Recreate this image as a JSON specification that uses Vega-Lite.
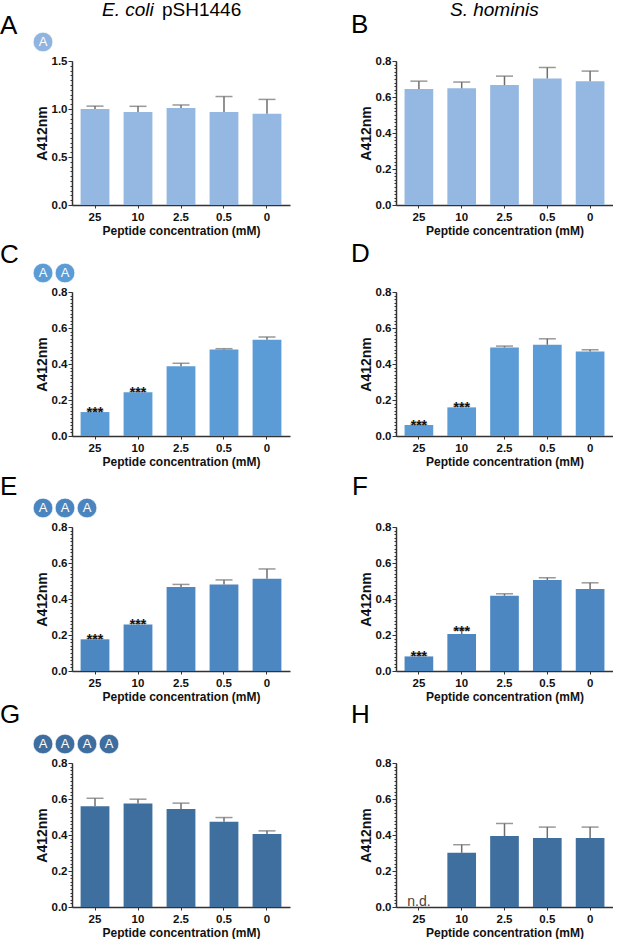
{
  "$schema": "https://vega.github.io/schema/vega-lite/v6.json",
  "background": "white",
  "padding": 0,
  "autosize": {"type": "pad"},
  "datasets": {
    "bars": [
      {"panel": "A", "conc": "25", "mean": 1.0, "hi": 1.03},
      {"panel": "A", "conc": "10", "mean": 0.97, "hi": 1.028},
      {"panel": "A", "conc": "2.5", "mean": 1.01, "hi": 1.042},
      {"panel": "A", "conc": "0.5", "mean": 0.97, "hi": 1.13},
      {"panel": "A", "conc": "0", "mean": 0.95, "hi": 1.1},
      {"panel": "B", "conc": "25", "mean": 0.644, "hi": 0.688},
      {"panel": "B", "conc": "10", "mean": 0.648, "hi": 0.683},
      {"panel": "B", "conc": "2.5", "mean": 0.666, "hi": 0.716},
      {"panel": "B", "conc": "0.5", "mean": 0.703, "hi": 0.764},
      {"panel": "B", "conc": "0", "mean": 0.688, "hi": 0.744},
      {"panel": "C", "conc": "25", "mean": 0.133, "hi": 0.141, "sig": "***"},
      {"panel": "C", "conc": "10", "mean": 0.243, "hi": 0.248, "sig": "***"},
      {"panel": "C", "conc": "2.5", "mean": 0.387, "hi": 0.404},
      {"panel": "C", "conc": "0.5", "mean": 0.48, "hi": 0.485},
      {"panel": "C", "conc": "0", "mean": 0.535, "hi": 0.55},
      {"panel": "D", "conc": "25", "mean": 0.061, "hi": 0.066, "sig": "***"},
      {"panel": "D", "conc": "10", "mean": 0.159, "hi": 0.166, "sig": "***"},
      {"panel": "D", "conc": "2.5", "mean": 0.492, "hi": 0.4995},
      {"panel": "D", "conc": "0.5", "mean": 0.507, "hi": 0.54},
      {"panel": "D", "conc": "0", "mean": 0.47, "hi": 0.479},
      {"panel": "E", "conc": "25", "mean": 0.176, "hi": 0.181, "sig": "***"},
      {"panel": "E", "conc": "10", "mean": 0.259, "hi": 0.265, "sig": "***"},
      {"panel": "E", "conc": "2.5", "mean": 0.467, "hi": 0.481},
      {"panel": "E", "conc": "0.5", "mean": 0.481, "hi": 0.506},
      {"panel": "E", "conc": "0", "mean": 0.513, "hi": 0.567},
      {"panel": "F", "conc": "25", "mean": 0.081, "hi": 0.087, "sig": "***"},
      {"panel": "F", "conc": "10", "mean": 0.205, "hi": 0.229, "sig": "***"},
      {"panel": "F", "conc": "2.5", "mean": 0.418, "hi": 0.429},
      {"panel": "F", "conc": "0.5", "mean": 0.506, "hi": 0.518},
      {"panel": "F", "conc": "0", "mean": 0.455, "hi": 0.49},
      {"panel": "G", "conc": "25", "mean": 0.56, "hi": 0.604},
      {"panel": "G", "conc": "10", "mean": 0.575, "hi": 0.599},
      {"panel": "G", "conc": "2.5", "mean": 0.545, "hi": 0.577},
      {"panel": "G", "conc": "0.5", "mean": 0.473, "hi": 0.497},
      {"panel": "G", "conc": "0", "mean": 0.405, "hi": 0.423},
      {"panel": "H", "conc": "25", "mean": null, "hi": null, "note": "n.d."},
      {"panel": "H", "conc": "10", "mean": 0.301, "hi": 0.346},
      {"panel": "H", "conc": "2.5", "mean": 0.394, "hi": 0.464},
      {"panel": "H", "conc": "0.5", "mean": 0.383, "hi": 0.444},
      {"panel": "H", "conc": "0", "mean": 0.383, "hi": 0.444}
    ],
    "badges": [
      {"panel": "A", "residue": 1, "aa": "A"},
      {"panel": "C", "residue": 1, "aa": "A"},
      {"panel": "C", "residue": 2, "aa": "A"},
      {"panel": "E", "residue": 1, "aa": "A"},
      {"panel": "E", "residue": 2, "aa": "A"},
      {"panel": "E", "residue": 3, "aa": "A"},
      {"panel": "G", "residue": 1, "aa": "A"},
      {"panel": "G", "residue": 2, "aa": "A"},
      {"panel": "G", "residue": 3, "aa": "A"},
      {"panel": "G", "residue": 4, "aa": "A"}
    ]
  },
  "columns": 2,
  "bounds": "flush",
  "spacing": {"row": 0, "column": 106},
  "concat": [
    {
      "width": 218, "height": 23,
      "data": {"values": []},
      "mark": "point",
      "title": {"text": "E. coli", "fontSize": 19, "fontStyle": "italic", "offset": -20, "dx": 30}
    },
    {
      "width": 217, "height": 23,
      "data": {"values": []},
      "mark": "point",
      "title": {"text": "S. hominis", "fontSize": 19, "fontStyle": "italic", "offset": -20, "dx": 54}
    },
    {
      "width": 218, "height": 38,
      "data": {"name": "badges"},
      "transform": [{"filter": "datum.panel === 'A'"}],
      "title": {"text": "pSH1446", "fontSize": 19, "offset": 3, "dx": 90},
      "encoding": {"x": {"field": "residue", "type": "quantitative", "scale": {"domain": [2.318, 12.227], "nice": false, "zero": false}, "axis": null}},
      "layer": [
        {"mark": {"type": "circle", "size": 385, "opacity": 1, "color": "#8fb4e0", "stroke": "white", "strokeWidth": 0.6}},
        {"mark": {"type": "text", "color": "white", "fontSize": 13}, "encoding": {"text": {"field": "aa"}}}
      ]
    },
    {"width": 217, "height": 38, "data": {"values": []}, "mark": "point"},
    {
      "width": 218, "height": 144,
      "data": {"name": "bars"},
      "transform": [{"filter": "datum.panel === 'A'"}],
      "title": {"text": "A", "dx": -72, "offset": 16},
      "encoding": {"x": {"field": "conc", "type": "nominal", "sort": null, "scale": {"domain": ["25", "10", "2.5", "0.5", "0"], "paddingInner": 0.33, "paddingOuter": 0.2}, "axis": {"title": "Peptide concentration (mM)"}}},
      "layer": [
        {"mark": {"type": "bar", "color": "#94b8e1"},
         "encoding": {"y": {"field": "mean", "type": "quantitative", "scale": {"domain": [0, 1.5], "nice": false},
           "axis": {"title": "A412nm", "orient": "left", "values": [0, 0.5, 1, 1.5], "format": ".1f", "tickSize": 4}}}},
        {"mark": {"type": "rule", "color": "#6e6e6e", "strokeWidth": 1.5},
         "encoding": {"y": {"field": "mean", "type": "quantitative",
           "axis": {"title": null, "orient": "left", "labels": false, "domain": false, "tickSize": 2,
             "values": [0, 0.05, 0.1, 0.15, 0.2, 0.25, 0.3, 0.35, 0.4, 0.45, 0.5, 0.55, 0.6, 0.65, 0.7, 0.75, 0.8, 0.85, 0.9, 0.95, 1, 1.05, 1.1, 1.15, 1.2, 1.25, 1.3, 1.35, 1.4, 1.45, 1.5]}},
           "y2": {"field": "hi"}}},
        {"mark": {"type": "tick", "color": "#6e6e6e", "thickness": 1.5, "size": 17},
         "encoding": {"y": {"field": "hi", "type": "quantitative", "axis": null}}}
      ],
      "resolve": {"axis": {"y": "independent"}}
    },
    {
      "width": 217, "height": 144,
      "data": {"name": "bars"},
      "transform": [{"filter": "datum.panel === 'B'"}],
      "title": {"text": "B", "dx": -45, "offset": 17},
      "encoding": {"x": {"field": "conc", "type": "nominal", "sort": null, "scale": {"domain": ["25", "10", "2.5", "0.5", "0"], "paddingInner": 0.33, "paddingOuter": 0.2}, "axis": {"title": "Peptide concentration (mM)"}}},
      "layer": [
        {"mark": {"type": "bar", "color": "#94b8e1"},
         "encoding": {"y": {"field": "mean", "type": "quantitative", "scale": {"domain": [0, 0.8], "nice": false},
           "axis": {"title": "A412nm", "orient": "left", "values": [0, 0.2, 0.4, 0.6, 0.8], "format": ".1f", "tickSize": 4}}}},
        {"mark": {"type": "rule", "color": "#6e6e6e", "strokeWidth": 1.5},
         "encoding": {"y": {"field": "mean", "type": "quantitative",
           "axis": {"title": null, "orient": "left", "labels": false, "domain": false, "tickSize": 2,
             "values": [0, 0.02, 0.04, 0.06, 0.08, 0.1, 0.12, 0.14, 0.16, 0.18, 0.2, 0.22, 0.24, 0.26, 0.28, 0.3, 0.32, 0.34, 0.36, 0.38, 0.4, 0.42, 0.44, 0.46, 0.48, 0.5, 0.52, 0.54, 0.56, 0.58, 0.6, 0.62, 0.64, 0.66, 0.68, 0.7, 0.72, 0.74, 0.76, 0.78, 0.8]}},
           "y2": {"field": "hi"}}},
        {"mark": {"type": "tick", "color": "#6e6e6e", "thickness": 1.5, "size": 17},
         "encoding": {"y": {"field": "hi", "type": "quantitative", "axis": null}}}
      ],
      "resolve": {"axis": {"y": "independent"}}
    },
    {"width": 218, "height": 48.7, "data": {"values": []}, "mark": "point"},
    {"width": 217, "height": 48.7, "data": {"values": []}, "mark": "point"},
    {
      "width": 218, "height": 38,
      "data": {"name": "badges"},
      "transform": [{"filter": "datum.panel === 'C'"}],
      "encoding": {"x": {"field": "residue", "type": "quantitative", "scale": {"domain": [2.318, 12.227], "nice": false, "zero": false}, "axis": null}},
      "layer": [
        {"mark": {"type": "circle", "size": 385, "opacity": 1, "color": "#5b9bd6", "stroke": "white", "strokeWidth": 0.6}},
        {"mark": {"type": "text", "color": "white", "fontSize": 13}, "encoding": {"text": {"field": "aa"}}}
      ]
    },
    {"width": 217, "height": 38, "data": {"values": []}, "mark": "point"},
    {
      "width": 218, "height": 144,
      "data": {"name": "bars"},
      "transform": [{"filter": "datum.panel === 'C'"}],
      "title": {"text": "C", "dx": -72, "offset": 17.7},
      "encoding": {"x": {"field": "conc", "type": "nominal", "sort": null, "scale": {"domain": ["25", "10", "2.5", "0.5", "0"], "paddingInner": 0.33, "paddingOuter": 0.2}, "axis": {"title": "Peptide concentration (mM)"}}},
      "layer": [
        {"mark": {"type": "bar", "color": "#5b9bd6"},
         "encoding": {"y": {"field": "mean", "type": "quantitative", "scale": {"domain": [0, 0.8], "nice": false},
           "axis": {"title": "A412nm", "orient": "left", "values": [0, 0.2, 0.4, 0.6, 0.8], "format": ".1f", "tickSize": 4}}}},
        {"mark": {"type": "rule", "color": "#6e6e6e", "strokeWidth": 1.5},
         "encoding": {"y": {"field": "mean", "type": "quantitative",
           "axis": {"title": null, "orient": "left", "labels": false, "domain": false, "tickSize": 2,
             "values": [0, 0.02, 0.04, 0.06, 0.08, 0.1, 0.12, 0.14, 0.16, 0.18, 0.2, 0.22, 0.24, 0.26, 0.28, 0.3, 0.32, 0.34, 0.36, 0.38, 0.4, 0.42, 0.44, 0.46, 0.48, 0.5, 0.52, 0.54, 0.56, 0.58, 0.6, 0.62, 0.64, 0.66, 0.68, 0.7, 0.72, 0.74, 0.76, 0.78, 0.8]}},
           "y2": {"field": "hi"}}},
        {"mark": {"type": "tick", "color": "#6e6e6e", "thickness": 1.5, "size": 17},
         "encoding": {"y": {"field": "hi", "type": "quantitative", "axis": null}}},
        {"transform": [{"filter": "datum.sig"}],
         "mark": {"type": "text", "baseline": "alphabetic", "dy": 6, "fontSize": 14, "fontWeight": "bold", "color": "#111"},
         "encoding": {"y": {"field": "hi", "type": "quantitative", "axis": null}, "text": {"field": "sig"}}}
      ],
      "resolve": {"axis": {"y": "independent"}}
    },
    {
      "width": 217, "height": 144,
      "data": {"name": "bars"},
      "transform": [{"filter": "datum.panel === 'D'"}],
      "title": {"text": "D", "dx": -45, "offset": 18.7},
      "encoding": {"x": {"field": "conc", "type": "nominal", "sort": null, "scale": {"domain": ["25", "10", "2.5", "0.5", "0"], "paddingInner": 0.33, "paddingOuter": 0.2}, "axis": {"title": "Peptide concentration (mM)"}}},
      "layer": [
        {"mark": {"type": "bar", "color": "#5b9bd6"},
         "encoding": {"y": {"field": "mean", "type": "quantitative", "scale": {"domain": [0, 0.8], "nice": false},
           "axis": {"title": "A412nm", "orient": "left", "values": [0, 0.2, 0.4, 0.6, 0.8], "format": ".1f", "tickSize": 4}}}},
        {"mark": {"type": "rule", "color": "#6e6e6e", "strokeWidth": 1.5},
         "encoding": {"y": {"field": "mean", "type": "quantitative",
           "axis": {"title": null, "orient": "left", "labels": false, "domain": false, "tickSize": 2,
             "values": [0, 0.02, 0.04, 0.06, 0.08, 0.1, 0.12, 0.14, 0.16, 0.18, 0.2, 0.22, 0.24, 0.26, 0.28, 0.3, 0.32, 0.34, 0.36, 0.38, 0.4, 0.42, 0.44, 0.46, 0.48, 0.5, 0.52, 0.54, 0.56, 0.58, 0.6, 0.62, 0.64, 0.66, 0.68, 0.7, 0.72, 0.74, 0.76, 0.78, 0.8]}},
           "y2": {"field": "hi"}}},
        {"mark": {"type": "tick", "color": "#6e6e6e", "thickness": 1.5, "size": 17},
         "encoding": {"y": {"field": "hi", "type": "quantitative", "axis": null}}},
        {"transform": [{"filter": "datum.sig"}],
         "mark": {"type": "text", "baseline": "alphabetic", "dy": 6, "fontSize": 14, "fontWeight": "bold", "color": "#111"},
         "encoding": {"y": {"field": "hi", "type": "quantitative", "axis": null}, "text": {"field": "sig"}}}
      ],
      "resolve": {"axis": {"y": "independent"}}
    },
    {"width": 218, "height": 53, "data": {"values": []}, "mark": "point"},
    {"width": 217, "height": 53, "data": {"values": []}, "mark": "point"},
    {
      "width": 218, "height": 38,
      "data": {"name": "badges"},
      "transform": [{"filter": "datum.panel === 'E'"}],
      "encoding": {"x": {"field": "residue", "type": "quantitative", "scale": {"domain": [2.318, 12.227], "nice": false, "zero": false}, "axis": null}},
      "layer": [
        {"mark": {"type": "circle", "size": 385, "opacity": 1, "color": "#4b85c0", "stroke": "white", "strokeWidth": 0.6}},
        {"mark": {"type": "text", "color": "white", "fontSize": 13}, "encoding": {"text": {"field": "aa"}}}
      ]
    },
    {"width": 217, "height": 38, "data": {"values": []}, "mark": "point"},
    {
      "width": 218, "height": 144,
      "data": {"name": "bars"},
      "transform": [{"filter": "datum.panel === 'E'"}],
      "title": {"text": "E", "dx": -72, "offset": 21.5},
      "encoding": {"x": {"field": "conc", "type": "nominal", "sort": null, "scale": {"domain": ["25", "10", "2.5", "0.5", "0"], "paddingInner": 0.33, "paddingOuter": 0.2}, "axis": {"title": "Peptide concentration (mM)"}}},
      "layer": [
        {"mark": {"type": "bar", "color": "#4d87c2"},
         "encoding": {"y": {"field": "mean", "type": "quantitative", "scale": {"domain": [0, 0.8], "nice": false},
           "axis": {"title": "A412nm", "orient": "left", "values": [0, 0.2, 0.4, 0.6, 0.8], "format": ".1f", "tickSize": 4}}}},
        {"mark": {"type": "rule", "color": "#6e6e6e", "strokeWidth": 1.5},
         "encoding": {"y": {"field": "mean", "type": "quantitative",
           "axis": {"title": null, "orient": "left", "labels": false, "domain": false, "tickSize": 2,
             "values": [0, 0.02, 0.04, 0.06, 0.08, 0.1, 0.12, 0.14, 0.16, 0.18, 0.2, 0.22, 0.24, 0.26, 0.28, 0.3, 0.32, 0.34, 0.36, 0.38, 0.4, 0.42, 0.44, 0.46, 0.48, 0.5, 0.52, 0.54, 0.56, 0.58, 0.6, 0.62, 0.64, 0.66, 0.68, 0.7, 0.72, 0.74, 0.76, 0.78, 0.8]}},
           "y2": {"field": "hi"}}},
        {"mark": {"type": "tick", "color": "#6e6e6e", "thickness": 1.5, "size": 17},
         "encoding": {"y": {"field": "hi", "type": "quantitative", "axis": null}}},
        {"transform": [{"filter": "datum.sig"}],
         "mark": {"type": "text", "baseline": "alphabetic", "dy": 6, "fontSize": 14, "fontWeight": "bold", "color": "#111"},
         "encoding": {"y": {"field": "hi", "type": "quantitative", "axis": null}, "text": {"field": "sig"}}}
      ],
      "resolve": {"axis": {"y": "independent"}}
    },
    {
      "width": 217, "height": 144,
      "data": {"name": "bars"},
      "transform": [{"filter": "datum.panel === 'F'"}],
      "title": {"text": "F", "dx": -44, "offset": 21.5},
      "encoding": {"x": {"field": "conc", "type": "nominal", "sort": null, "scale": {"domain": ["25", "10", "2.5", "0.5", "0"], "paddingInner": 0.33, "paddingOuter": 0.2}, "axis": {"title": "Peptide concentration (mM)"}}},
      "layer": [
        {"mark": {"type": "bar", "color": "#4d87c2"},
         "encoding": {"y": {"field": "mean", "type": "quantitative", "scale": {"domain": [0, 0.8], "nice": false},
           "axis": {"title": "A412nm", "orient": "left", "values": [0, 0.2, 0.4, 0.6, 0.8], "format": ".1f", "tickSize": 4}}}},
        {"mark": {"type": "rule", "color": "#6e6e6e", "strokeWidth": 1.5},
         "encoding": {"y": {"field": "mean", "type": "quantitative",
           "axis": {"title": null, "orient": "left", "labels": false, "domain": false, "tickSize": 2,
             "values": [0, 0.02, 0.04, 0.06, 0.08, 0.1, 0.12, 0.14, 0.16, 0.18, 0.2, 0.22, 0.24, 0.26, 0.28, 0.3, 0.32, 0.34, 0.36, 0.38, 0.4, 0.42, 0.44, 0.46, 0.48, 0.5, 0.52, 0.54, 0.56, 0.58, 0.6, 0.62, 0.64, 0.66, 0.68, 0.7, 0.72, 0.74, 0.76, 0.78, 0.8]}},
           "y2": {"field": "hi"}}},
        {"mark": {"type": "tick", "color": "#6e6e6e", "thickness": 1.5, "size": 17},
         "encoding": {"y": {"field": "hi", "type": "quantitative", "axis": null}}},
        {"transform": [{"filter": "datum.sig"}],
         "mark": {"type": "text", "baseline": "alphabetic", "dy": 6, "fontSize": 14, "fontWeight": "bold", "color": "#111"},
         "encoding": {"y": {"field": "hi", "type": "quantitative", "axis": null}, "text": {"field": "sig"}}}
      ],
      "resolve": {"axis": {"y": "independent"}}
    },
    {"width": 218, "height": 53.6, "data": {"values": []}, "mark": "point"},
    {"width": 217, "height": 53.6, "data": {"values": []}, "mark": "point"},
    {
      "width": 218, "height": 38,
      "data": {"name": "badges"},
      "transform": [{"filter": "datum.panel === 'G'"}],
      "encoding": {"x": {"field": "residue", "type": "quantitative", "scale": {"domain": [2.318, 12.227], "nice": false, "zero": false}, "axis": null}},
      "layer": [
        {"mark": {"type": "circle", "size": 385, "opacity": 1, "color": "#3e6e9f", "stroke": "white", "strokeWidth": 0.6}},
        {"mark": {"type": "text", "color": "white", "fontSize": 13}, "encoding": {"text": {"field": "aa"}}}
      ]
    },
    {"width": 217, "height": 38, "data": {"values": []}, "mark": "point"},
    {
      "width": 218, "height": 144,
      "data": {"name": "bars"},
      "transform": [{"filter": "datum.panel === 'G'"}],
      "title": {"text": "G", "dx": -72, "offset": 29.3},
      "encoding": {"x": {"field": "conc", "type": "nominal", "sort": null, "scale": {"domain": ["25", "10", "2.5", "0.5", "0"], "paddingInner": 0.33, "paddingOuter": 0.2}, "axis": {"title": "Peptide concentration (mM)"}}},
      "layer": [
        {"mark": {"type": "bar", "color": "#3f6f9f"},
         "encoding": {"y": {"field": "mean", "type": "quantitative", "scale": {"domain": [0, 0.8], "nice": false},
           "axis": {"title": "A412nm", "orient": "left", "values": [0, 0.2, 0.4, 0.6, 0.8], "format": ".1f", "tickSize": 4}}}},
        {"mark": {"type": "rule", "color": "#6e6e6e", "strokeWidth": 1.5},
         "encoding": {"y": {"field": "mean", "type": "quantitative",
           "axis": {"title": null, "orient": "left", "labels": false, "domain": false, "tickSize": 2,
             "values": [0, 0.02, 0.04, 0.06, 0.08, 0.1, 0.12, 0.14, 0.16, 0.18, 0.2, 0.22, 0.24, 0.26, 0.28, 0.3, 0.32, 0.34, 0.36, 0.38, 0.4, 0.42, 0.44, 0.46, 0.48, 0.5, 0.52, 0.54, 0.56, 0.58, 0.6, 0.62, 0.64, 0.66, 0.68, 0.7, 0.72, 0.74, 0.76, 0.78, 0.8]}},
           "y2": {"field": "hi"}}},
        {"mark": {"type": "tick", "color": "#6e6e6e", "thickness": 1.5, "size": 17},
         "encoding": {"y": {"field": "hi", "type": "quantitative", "axis": null}}}
      ],
      "resolve": {"axis": {"y": "independent"}}
    },
    {
      "width": 217, "height": 144,
      "data": {"name": "bars"},
      "transform": [{"filter": "datum.panel === 'H'"}],
      "title": {"text": "H", "dx": -45, "offset": 29.3},
      "encoding": {"x": {"field": "conc", "type": "nominal", "sort": null, "scale": {"domain": ["25", "10", "2.5", "0.5", "0"], "paddingInner": 0.33, "paddingOuter": 0.2}, "axis": {"title": "Peptide concentration (mM)"}}},
      "layer": [
        {"transform": [{"filter": "datum.mean != null"}],
         "mark": {"type": "bar", "color": "#3f6f9f"},
         "encoding": {"y": {"field": "mean", "type": "quantitative", "scale": {"domain": [0, 0.8], "nice": false},
           "axis": {"title": "A412nm", "orient": "left", "values": [0, 0.2, 0.4, 0.6, 0.8], "format": ".1f", "tickSize": 4}}}},
        {"transform": [{"filter": "datum.mean != null"}],
         "mark": {"type": "rule", "color": "#6e6e6e", "strokeWidth": 1.5},
         "encoding": {"y": {"field": "mean", "type": "quantitative",
           "axis": {"title": null, "orient": "left", "labels": false, "domain": false, "tickSize": 2,
             "values": [0, 0.02, 0.04, 0.06, 0.08, 0.1, 0.12, 0.14, 0.16, 0.18, 0.2, 0.22, 0.24, 0.26, 0.28, 0.3, 0.32, 0.34, 0.36, 0.38, 0.4, 0.42, 0.44, 0.46, 0.48, 0.5, 0.52, 0.54, 0.56, 0.58, 0.6, 0.62, 0.64, 0.66, 0.68, 0.7, 0.72, 0.74, 0.76, 0.78, 0.8]}},
           "y2": {"field": "hi"}}},
        {"transform": [{"filter": "datum.mean != null"}],
         "mark": {"type": "tick", "color": "#6e6e6e", "thickness": 1.5, "size": 17},
         "encoding": {"y": {"field": "hi", "type": "quantitative", "axis": null}}},
        {"transform": [{"filter": "datum.note"}],
         "mark": {"type": "text", "baseline": "alphabetic", "dy": -1, "fontSize": 14, "color": "#444"},
         "encoding": {"y": {"datum": 0, "type": "quantitative", "axis": null}, "text": {"field": "note"}}}
      ],
      "resolve": {"axis": {"y": "independent"}}
    }
  ],
  "config": {
    "view": {"stroke": null},
    "font": "Liberation Sans",
    "axis": {
      "grid": false,
      "domainColor": "#333",
      "domainWidth": 1.5,
      "tickColor": "#333",
      "tickWidth": 1,
      "labelFont": "Liberation Sans",
      "labelFontWeight": "bold",
      "labelFontSize": 11.5,
      "labelColor": "#111",
      "titleFont": "Liberation Sans",
      "titleFontWeight": "bold",
      "titleColor": "#111"
    },
    "axisX": {"labelAngle": 0, "tickSize": 3, "labelPadding": 3, "titleFontSize": 12, "titlePadding": 3},
    "axisY": {"titleFontSize": 14, "titlePadding": 2, "labelPadding": 1, "labelOverlap": false, "labelFlush": false, "labelBound": false},
    "title": {"font": "Liberation Sans", "fontWeight": "normal", "fontSize": 26, "color": "#000", "anchor": "start", "frame": "group"}
  }
}
